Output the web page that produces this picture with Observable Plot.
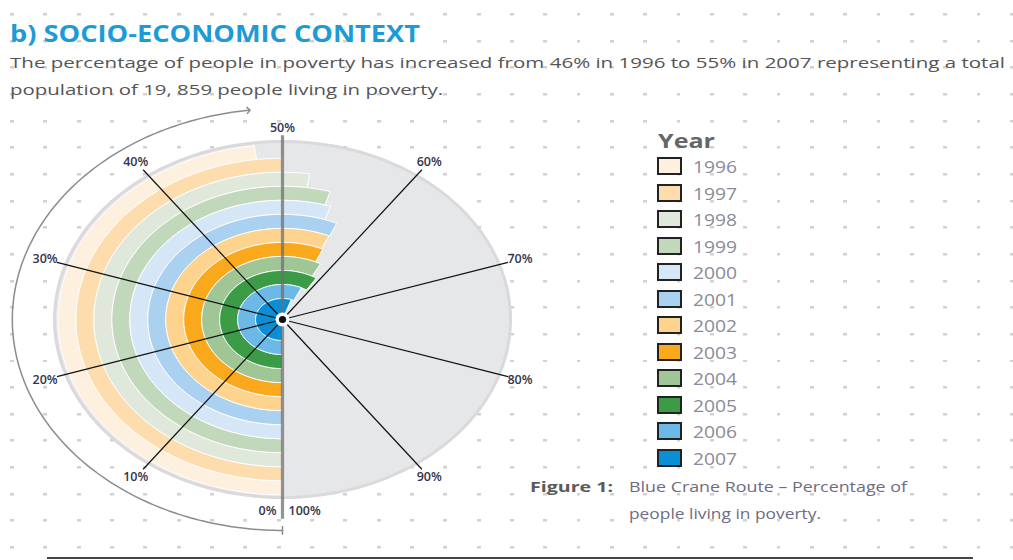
<!DOCTYPE html>
<html><head><meta charset="utf-8">
<script src="https://cdn.jsdelivr.net/npm/d3@7"></script>
<script src="https://cdn.jsdelivr.net/npm/@observablehq/plot@0.6"></script>
<style>
html,body{margin:0;padding:0;}
body{width:1013px;height:560px;overflow:hidden;position:relative;font-family:"Open Sans",sans-serif;
 background-color:#fff;
 background-image:url("data:image/svg+xml;utf8,<svg xmlns='http://www.w3.org/2000/svg' width='33.33' height='26.67'><rect width='4' height='2.5' fill='%23d2d2d2'/></svg>");
 background-size:33.33px 26.67px;background-position:10px 13px;}
.abs{position:absolute;white-space:nowrap;transform-origin:0 0;line-height:1;}
#chart{position:absolute;left:0;top:100px;}
</style></head><body>
<div id="title" class="abs" style="left:10px;top:21px;font-size:24px;font-weight:700;color:#1e9bd7;" data-w="410"></div>
<div id="sub1" class="abs" style="left:10px;top:55px;font-size:15px;color:#555;" data-w="995"></div>
<div id="sub2" class="abs" style="left:10px;top:82px;font-size:15px;color:#555;" data-w="433"></div>
<div id="chart"></div>
<div id="legend"></div>
<div id="cap0" class="abs" style="left:530px;top:480px;font-size:14px;font-weight:700;color:#5a5a5a;" data-w="83"></div>
<div id="cap1" class="abs" style="left:629px;top:480px;font-size:14px;color:#6e6c80;" data-w="278"></div>
<div id="cap2" class="abs" style="left:629px;top:507px;font-size:14px;color:#6e6c80;" data-w="192"></div>
<div style="position:absolute;left:47px;top:557px;width:926px;height:1.5px;background:#444;"></div>
<script>
// ---- data ----
const years = ["1996","1997","1998","1999","2000","2001","2002","2003","2004","2005","2006","2007"];
const poverty = [48, 50, 52.3, 54.5, 55.1, 56.6, 56.5, 56.7, 57.8, 59, 56.9, 55.3];
const colors = ["#fdf0df","#fddcae","#dfe8da","#c2d8bb","#d5e7f6","#aad1ef","#fdd38e","#faa91c","#a0c696","#3b9b47","#6cb8e6","#0a8fd7"];
const tickPercents = [10,20,30,40,50,60,70,80,90];
const tickLabels = ["10%","20%","30%","40%","50%","60%","70%","80%","90%"];
const zeroLabels = ["0%","100%"];
const titleText = "b) SOCIO-ECONOMIC CONTEXT";
const subtitleLines = ["The percentage of people in poverty has increased from 46% in 1996 to 55% in 2007 representing a total",
                       "population of 19, 859 people living in poverty."];
const legendTitle = "Year";
const captionLabel = "Figure 1:";
const captionLines = ["Blue Crane Route \u2013 Percentage of", "people living in poverty."];

document.getElementById("title").textContent = titleText;
document.getElementById("sub1").textContent = subtitleLines[0];
document.getElementById("sub2").textContent = subtitleLines[1];
document.getElementById("cap0").textContent = captionLabel;
document.getElementById("cap1").textContent = captionLines[0];
document.getElementById("cap2").textContent = captionLines[1];

// ---- geometry helpers (unit circle, 0% at bottom, clockwise) ----
const pt = (r, p) => { const t = p / 100 * 2 * Math.PI; return {x: -r * Math.sin(t), y: -r * Math.cos(t)}; };
function arc(r, p0, p1, step = 0.25) {
  const out = []; const n = Math.max(2, Math.ceil(Math.abs(p1 - p0) / step));
  for (let i = 0; i <= n; i++) out.push(pt(r, p0 + (p1 - p0) * i / n));
  return out;
}
const ringW = 0.0788, core = 0.118;
const bandPts = [];
years.forEach((yr, i) => {
  const k = years.length - 1 - i;
  const inner = k === 0 ? 0 : core + (k - 1) * ringW;
  const outer = core + k * ringW;
  const v = poverty[i];
  const poly = arc(outer, 0, v).concat(inner > 0 ? arc(inner, v, 0) : [pt(0, 0)]);
  poly.push(poly[0]);
  poly.forEach(q => bandPts.push({...q, year: yr}));
});
const disk = arc(1, 0, 100, 0.5);
const spokes = tickPercents.filter(p => p !== 50).map(p => ({a: pt(0, p), b: pt(1.04, p)}));
const grayRules = [{a: pt(1.12, 0), b: pt(1.035, 50)}];
const labels = tickPercents.map((p, i) => ({...pt(p === 50 ? 1.075 : 1.095, p), t: tickLabels[i]}));
const zeroPos = pt(1.075, 0);
const arrowPts = arc(1.185, 0, 48);
const arrowCap = [{a: pt(1.16, 0), b: pt(1.21, 0)}];
const centre = [pt(0, 0)];

const lbl = {fontSize: 12.5, fontWeight: 600, fill: "#33334a", fontFamily: "Open Sans"};
const chart = Plot.plot({
  width: 640, height: 460, margin: 0,
  style: {background: "transparent", overflow: "visible"},
  x: {domain: [-1, 1], range: [54, 510], axis: null},
  y: {domain: [-1, 1], range: [397, 41], axis: null},
  color: {domain: years, range: colors},
  marks: [
    Plot.line(disk, {x: "x", y: "y", fill: "#e6e7e9", stroke: "#dadadc", strokeWidth: 3, curve: "linear"}),
    Plot.line(bandPts, {x: "x", y: "y", z: "year", fill: "year", stroke: "white", strokeWidth: 1, curve: "linear"}),
    Plot.link(spokes, {x1: d => d.a.x, y1: d => d.a.y, x2: d => d.b.x, y2: d => d.b.y, stroke: "#111", strokeWidth: 1.2}),
    Plot.link(grayRules, {x1: d => d.a.x, y1: d => d.a.y, x2: d => d.b.x, y2: d => d.b.y, stroke: "#6f6f6f", strokeOpacity: 0.75, strokeWidth: 3.2}),
    Plot.dot(centre, {x: "x", y: "y", r: 7, fill: "white"}),
    Plot.dot(centre, {x: "x", y: "y", r: 3.6, fill: "#111"}),
    Plot.text(labels, {x: "x", y: "y", text: "t", ...lbl}),
    Plot.text([zeroPos], {x: "x", y: "y", text: () => zeroLabels[0], textAnchor: "end", dx: -6, ...lbl}),
    Plot.text([zeroPos], {x: "x", y: "y", text: () => zeroLabels[1], textAnchor: "start", dx: 6, ...lbl}),
    Plot.line(arrowPts, {x: "x", y: "y", stroke: "#8c8c8c", strokeWidth: 1.5, markerEnd: "arrow"}),
    Plot.link(arrowCap, {x1: d => d.a.x, y1: d => d.a.y, x2: d => d.b.x, y2: d => d.b.y, stroke: "#8c8c8c", strokeWidth: 1.5})
  ]
});
document.getElementById("chart").appendChild(chart);

// ---- legend ----
const leg = document.getElementById("legend");
const lt = document.createElement("div");
lt.className = "abs"; lt.textContent = legendTitle;
Object.assign(lt.style, {left: "658px", top: "131px", fontSize: "20px", fontWeight: "700", color: "#666"});
lt.dataset.w = "57";
leg.appendChild(lt);
years.forEach((yr, i) => {
  const top = 157 + i * 26.5;
  const sw = document.createElement("div");
  Object.assign(sw.style, {position: "absolute", left: "657px", top: top + "px", width: "21px", height: "14px", background: colors[i], border: "2px solid #222"});
  leg.appendChild(sw);
  const tx = document.createElement("div");
  tx.className = "abs"; tx.textContent = yr;
  Object.assign(tx.style, {left: "693px", top: (top + 2) + "px", fontSize: "16px", color: "#8a8a98"});
  tx.dataset.w = "44";
  leg.appendChild(tx);
});

function fitAll() {
  document.querySelectorAll("[data-w]").forEach(el => {
    el.style.transform = "none";
    const w = el.getBoundingClientRect().width;
    if (w > 0) el.style.transform = `scaleX(${(+el.dataset.w) / w})`;
  });
}
fitAll();
if (document.fonts && document.fonts.ready) document.fonts.ready.then(fitAll);
</script>
</body></html>
